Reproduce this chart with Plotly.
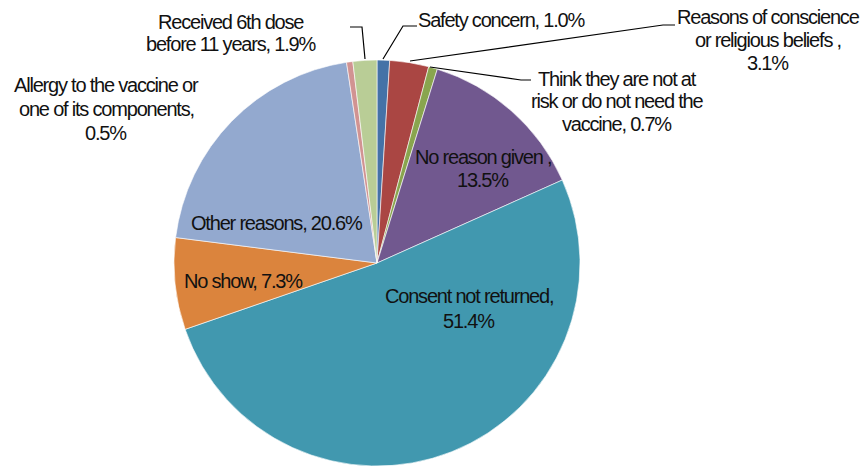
import plotly.graph_objects as go

W, H = 863, 466

labels = [
    "Safety concern",
    "Reasons of conscience or religious beliefs",
    "Think they are not at risk or do not need the vaccine",
    "No reason given",
    "Consent not returned",
    "No show",
    "Other reasons",
    "Allergy to the vaccine or one of its components",
    "Received 6th dose before 11 years",
]
values = [1.0, 3.1, 0.7, 13.5, 51.4, 7.3, 20.6, 0.5, 1.9]
colors = ["#4572A7", "#AA4643", "#89A54E", "#71588F", "#4198AF",
          "#DB843D", "#93A9CF", "#D19392", "#B9CD96"]

# label text split into lines (value appended from values)
label_lines = [
    ["Safety concern, {v}"],
    ["Reasons of conscience", "or religious beliefs ,", "{v}"],
    ["Think they are not at", "risk or do not need the", "vaccine, {v}"],
    ["No reason given ,", "{v}"],
    ["Consent not returned,", "{v}"],
    ["No show, {v}"],
    ["Other reasons, {v}"],
    ["Allergy to the vaccine or", "one of its components,", "{v}"],
    ["Received 6th dose", "before 11 years, {v}"],
]
# label centre x and line centre y positions (pixels)
label_pos = [
    (502, [20]),
    (768, [17, 40, 63]),
    (617, [79, 101, 124]),
    (483, [157, 180]),
    (469, [296, 321]),
    (243, [281]),
    (277, [223]),
    (106, [85, 109, 133]),
    (231, [22, 44]),
]
leader_lines = [
    [(417, 26), (403, 26), (383, 59)],
    [(675, 25), (663, 25), (410, 61)],
    [(430, 67), (521, 80), (531, 80)],
    None, None, None, None, None,
    [(350, 27), (362, 27), (365, 59)],
]

def px(x):
    return x / W

def py(y):
    return 1 - y / H

cx, cy, r = 377, 263, 203

fig = go.Figure(go.Pie(
    labels=labels,
    values=values,
    sort=False,
    direction="clockwise",
    rotation=0,
    marker=dict(colors=colors, line=dict(color="white", width=0.6)),
    textinfo="none",
    hoverinfo="label+percent",
    showlegend=False,
    domain=dict(x=[px(cx - r), px(cx + r)], y=[py(cy + r), py(cy - r)]),
))

font = dict(family="Liberation Sans, Arial, sans-serif", size=20, color="#111111")
annotations = []
for lines, v, (x, ys) in zip(label_lines, values, label_pos):
    for line, y in zip(lines, ys):
        txt = line.format(v=f"{v:.1f}%")
        annotations.append(dict(
            x=px(x), y=py(y), xref="paper", yref="paper",
            text=f'<span style="letter-spacing:-1.2px">{txt}</span>',
            showarrow=False,
            xanchor="center", yanchor="middle", font=font,
        ))

shapes = []
for pts in leader_lines:
    if not pts:
        continue
    path = "M " + " L ".join(f"{px(x)},{py(y)}" for x, y in pts)
    shapes.append(dict(type="path", path=path, xref="paper", yref="paper",
                       line=dict(color="black", width=1.2)))

fig.update_layout(
    width=W, height=H,
    margin=dict(l=0, r=0, t=0, b=0),
    paper_bgcolor="white", plot_bgcolor="white",
    annotations=annotations, shapes=shapes,
)

fig.write_html("out.html", config={"displayModeBar": False},
               post_script="document.body.style.margin='0';")
